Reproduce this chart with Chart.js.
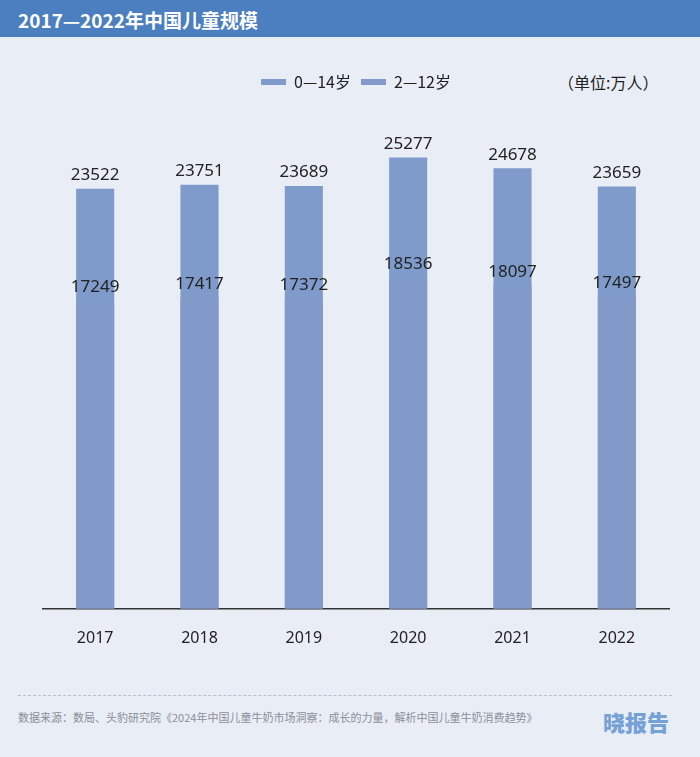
<!DOCTYPE html>
<html>
<head>
<meta charset="utf-8">
<script src="https://cdn.jsdelivr.net/npm/chart.js@4/dist/chart.umd.min.js"></script>
<style>
  html, body { margin: 0; padding: 0; }
  body { width: 700px; height: 757px; background: #e9edf5; position: relative; overflow: hidden;
    font-family: "Noto Sans CJK SC", "Noto Sans", sans-serif; }
  .head { position: absolute; left: 0; top: 0; width: 700px; height: 37px; background: #4b7fc0; }
  .head span { position: absolute; left: 18px; top: 6px; color: #fff; font-size: 19px; font-weight: 700; }
  .unit { position: absolute; left: 558px; top: 70px; font-size: 16px; color: #222; }
  .wrap { position: absolute; left: 0; top: 40px; width: 700px; height: 650px; }
  .dash { position: absolute; left: 18px; top: 695px; width: 654px; border-top: 1px dashed #b8bfcc; }
  .src { position: absolute; left: 18px; top: 709px; font-size: 11px; color: #8a8f99; }
  .logo { position: absolute; left: 603px; top: 705px; font-size: 22px; font-weight: 900; color: #74a1d6; }
</style>
</head>
<body>
<div class="head"><span>2017—2022年中国儿童规模</span></div>
<div class="unit">（单位:万人）</div>
<div class="wrap"><canvas id="chart" width="700" height="650"></canvas></div>
<div class="dash"></div>
<div class="src">数据来源：数局、头豹研究院《2024年中国儿童牛奶市场洞察：成长的力量，解析中国儿童牛奶消费趋势》</div>
<div class="logo">晓报告</div>
<script>
const years = ["2017", "2018", "2019", "2020", "2021", "2022"];
const kids0to14 = [23522, 23751, 23689, 25277, 24678, 23659];
const kids2to12 = [17249, 17417, 17372, 18536, 18097, 17497];

// blue fill with faint pink dots, like the source's textured bars
function dotPattern() {
  const c = document.createElement("canvas");
  c.width = 4;
  c.height = 4;
  const g = c.getContext("2d");
  g.fillStyle = "#7f9bcb";
  g.fillRect(0, 0, 4, 4);
  g.fillStyle = "#9c94c0";
  g.fillRect(0, 0, 1, 1);
  g.fillRect(2, 2, 1, 1);
  return g.createPattern(c, "repeat");
}

const valueLabels = {
  id: "valueLabels",
  afterDatasetsDraw(chart) {
    const ctx = chart.ctx;
    ctx.save();
    ctx.font = "17px 'Noto Sans', sans-serif";
    ctx.fillStyle = "#222";
    ctx.textAlign = "center";
    ctx.textBaseline = "bottom";
    chart.data.datasets.forEach((ds, i) => {
      chart.getDatasetMeta(i).data.forEach((bar, j) => {
        ctx.fillText(ds.data[j], bar.x, bar.y - 5);
      });
    });
    ctx.restore();
  }
};

new Chart(document.getElementById("chart"), {
  type: "bar",
  data: {
    labels: years,
    datasets: [
      {
        label: "0—14岁",
        data: kids0to14,
        backgroundColor: "#7e9bcb",
        order: 1,
      },
      {
        label: "2—12岁",
        data: kids2to12,
        backgroundColor: dotPattern(),
        order: 0,
      },
    ],
  },
  options: {
    responsive: false,
    animation: false,
    layout: { padding: { top: 24, left: 43, right: 31, bottom: 22 } },
    datasets: { bar: { grouped: false, categoryPercentage: 1, barPercentage: 0.365 } },
    scales: {
      x: {
        grid: { display: false, drawTicks: false },
        border: { color: "#333", width: 1.5 },
        ticks: { color: "#222", padding: 20, font: { size: 16, family: "'Noto Sans', sans-serif" } },
      },
      y: {
        display: false,
        min: 0,
        max: 28500,
      },
    },
    plugins: {
      legend: {
        position: "top",
        labels: {
          boxWidth: 25,
          boxHeight: 6,
          padding: 10,
          color: "#222",
          font: { size: 16, family: "'Noto Sans CJK SC', sans-serif" },
          sort: (a, b) => a.datasetIndex - b.datasetIndex,
        },
      },
      tooltip: { enabled: false },
    },
  },
  plugins: [valueLabels],
});
</script>
</body>
</html>
